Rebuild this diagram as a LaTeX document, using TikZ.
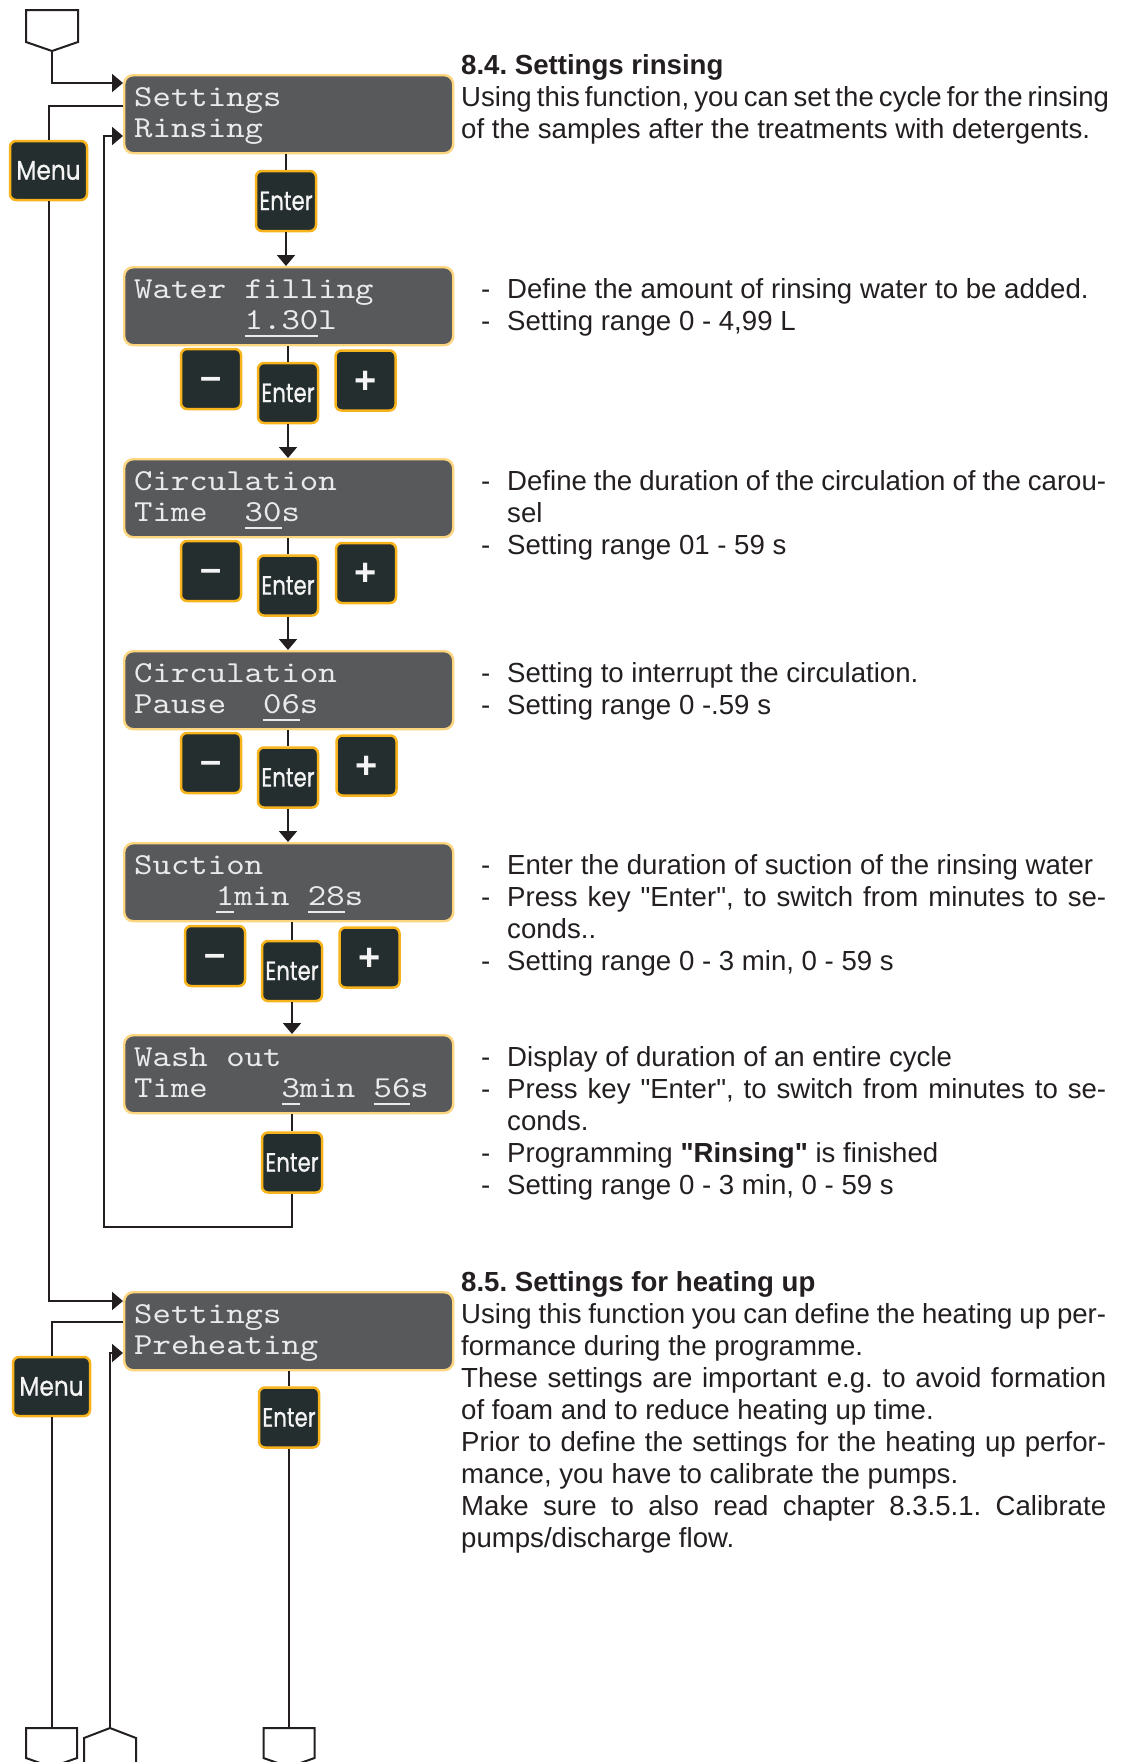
\documentclass[tikz,border=0pt]{standalone}
\usepackage{fontspec}
\usepackage{graphicx}
\newfontfamily\rtfont{Liberation Sans}
\newfontfamily\lcdfont{lmmono10-regular.otf}[FakeStretch=1.15]
\newfontfamily\keyfont{Poppins}[FakeBold=0.8]
\usetikzlibrary{arrows.meta}
\definecolor{lcdfill}{HTML}{58595B}
\definecolor{lcdborder}{HTML}{FCD57E}
\definecolor{lcdtext}{HTML}{EAEAEA}
\definecolor{keyfill}{HTML}{242E2F}
\definecolor{keyborder}{HTML}{F6B31B}
\definecolor{keytext}{HTML}{F4F4F4}
\definecolor{linecol}{HTML}{231F20}
\definecolor{txt}{HTML}{231F20}
\newsavebox\ulbox
\newcommand\ulx[1]{\sbox\ulbox{#1}\rlap{\rule[-7pt]{\wd\ulbox}{1.8pt}}\usebox\ulbox}
\newcommand\ekey{\scalebox{0.8}[1]{Enter}}
\newcommand\mkey{\scalebox{0.86}[1]{Menu}}
\newcommand\minuskey{\raisebox{-0.27em}[0pt][0pt]{–}}
\newcommand\pluskey{\raisebox{-0.33em}[0pt][0pt]{+}}
\begin{document}
\begin{tikzpicture}[x=1pt,y=-1pt,
  conn/.style={draw=linecol, line width=2pt},
  arr/.style={-{Triangle[width=18pt,length=11pt]}},
  lcd/.style={draw=lcdborder, line width=2.4pt, fill=lcdfill, rounded corners=9pt,
    minimum width=329pt, minimum height=78pt, inner sep=0pt, anchor=north west},
  lcdtxt/.style={anchor=base west, inner sep=0pt, text=lcdtext,
    font=\lcdfont\fontsize{30.5}{30.5}\selectfont},
  key/.style={draw=keyborder, line width=2.5pt, fill=keyfill, rounded corners=6pt,
    minimum width=60pt, minimum height=60pt, inner sep=0pt, text=keytext,
    font=\keyfont\fontsize{26.5}{26.5}\selectfont},
  menukey/.style={key, minimum width=77pt, minimum height=59pt,
    font=\keyfont\fontsize{27}{27}\selectfont},
  symkey/.style={key, font=\rtfont\bfseries\fontsize{38}{38}\selectfont},
  rt/.style={anchor=base west, inner sep=0pt, text=txt,
    font=\rtfont\fontsize{27.6}{32}\selectfont\frenchspacing},
  conshape/.style={draw=linecol, line width=2pt, fill=white, line join=miter}]
\useasboundingbox (0,0) rectangle (1125,1762);
\fill[white] (0,0) rectangle (1125,1762);
\clip (0,0) rectangle (1125,1762);

% off-page connectors
\draw[conshape] (26,10) -- (78,10) -- (78,42) -- (52,51) -- (26,42) -- cycle;
\coordinate (ctop) at (52,51);
\draw[conshape] (26,1728) -- (77,1728) -- (77,1758) -- (51.5,1767) -- (26,1758) -- cycle;
\coordinate (cbl) at (51.5,1728);
\draw[conshape] (110,1728) -- (136,1738) -- (136,1790) -- (84,1790) -- (84,1738) -- cycle;
\coordinate (cbm) at (110,1728);
\draw[conshape] (263.5,1728) -- (314.5,1728) -- (314.5,1758) -- (289,1767) -- (263.5,1758) -- cycle;
\coordinate (cbr) at (289,1728);

% LCD boxes
\node[lcd] (b1) at (123,74) {};
\node[lcd] (b2) at (123,266) {};
\node[lcd] (b3) at (123,458) {};
\node[lcd] (b4) at (123,650) {};
\node[lcd] (b5) at (123,842) {};
\node[lcd] (b6) at (123,1034) {};
\node[lcd] (b7) at (123,1291) {};

\node[lcdtxt] (t1a) at (134,106) {Settings};
\node[lcdtxt] (t1b) at (134,137.5) {Rinsing};
\node[lcdtxt] (t2a) at (134,298) {Water~filling};
\node[lcdtxt] (t2b) at (134,329.5) {~~~~~~\ulx{1.30}l};
\node[lcdtxt] (t3a) at (134,490) {Circulation};
\node[lcdtxt] (t3b) at (134,521.5) {Time~~\ulx{30}s};
\node[lcdtxt] (t4a) at (134,682) {Circulation};
\node[lcdtxt] (t4b) at (134,713.5) {Pause~~\ulx{06}s};
\node[lcdtxt] (t5a) at (134,874) {Suction};
\node[lcdtxt] (t5b) at (142,905.5) {~~~~\ulx{1}min~\ulx{28}s};
\node[lcdtxt] (t6a) at (134,1066) {Wash~out};
\node[lcdtxt] (t6b) at (134,1097.5) {Time~~~~\ulx{3}min~\ulx{56}s};
\node[lcdtxt] (t7a) at (134,1323) {Settings};
\node[lcdtxt] (t7b) at (134,1354.5) {Preheating};

% keys
\node[menukey] (menu1) at (48.5,170.5) {\mkey};
\node[menukey] (menu2) at (51.5,1386.5) {\mkey};
\node[key] (e1) at (286,201) {\ekey};
\node[symkey] (m2) at (211,379) {\minuskey};
\node[key] (e2) at (288,393) {\ekey};
\node[symkey] (p2) at (365.5,380.5) {\pluskey};
\node[symkey] (m3) at (211,571) {\minuskey};
\node[key] (e3) at (288,585.5) {\ekey};
\node[symkey] (p3) at (366,573) {\pluskey};
\node[symkey] (m4) at (211,763) {\minuskey};
\node[key] (e4) at (288,777.5) {\ekey};
\node[symkey] (p4) at (366.5,765.5) {\pluskey};
\node[symkey] (m5) at (215,956) {\minuskey};
\node[key] (e5) at (292,971) {\ekey};
\node[symkey] (p5) at (369.5,957.5) {\pluskey};
\node[key] (e6) at (292,1162.5) {\ekey};
\node[key] (e7) at (289,1417.5) {\ekey};

% main chain
\draw[conn] (e1 |- b1.south) -- (e1.north);
\draw[conn,arr] (e1.south) -- (e1 |- b2.north);
\draw[conn] (e2 |- b2.south) -- (e2.north);
\draw[conn,arr] (e2.south) -- (e2 |- b3.north);
\draw[conn] (e3 |- b3.south) -- (e3.north);
\draw[conn,arr] (e3.south) -- (e3 |- b4.north);
\draw[conn] (e4 |- b4.south) -- (e4.north);
\draw[conn,arr] (e4.south) -- (e4 |- b5.north);
\draw[conn] (e5 |- b5.south) -- (e5.north);
\draw[conn,arr] (e5.south) -- (e5 |- b6.north);
\draw[conn] (e6 |- b6.south) -- (e6.north);
\draw[conn,arr] (e6.south) |- (104,1227) |- (b1.west |- 0,136);
\draw[conn,arr] (ctop) |- (b1.west |- 0,83);

% menu paths
\draw[conn] (b1.west |- 0,106) -| (menu1.north);
\draw[conn,arr] (menu1.south) |- (b7.west |- 0,1301);
\draw[conn] (b7.west |- 0,1322) -| (menu2.north);
\draw[conn] (menu2.south) -- (cbl);
\draw[conn,arr] (cbm) |- (b7.west |- 0,1353);
\draw[conn] (e7 |- b7.south) -- (e7.north);
\draw[conn] (e7.south) -- (cbr);

% right-hand text: 8.4
\node[rt] (h1) at (461,74) {\bfseries 8.4. Settings rinsing};
\node[rt] (p1a) at (461,106) {\makebox[645pt][s]{Using this function, you can set the cycle for the rinsing}};
\node[rt] (p1b) at (461,138) {of the samples after the treatments with detergents.};

\node[rt] (d1) at (481,298) {-};
\node[rt] (l1) at (507,298) {Define the amount of rinsing water to be added.};
\node[rt] (d2) at (481,330) {-};
\node[rt] (l2) at (507,330) {Setting range 0 - 4,99 L};

\node[rt] (d3) at (481,490) {-};
\node[rt] (l3) at (507,490) {\makebox[599pt][s]{Define the duration of the circulation of the carou-}};
\node[rt] (l3b) at (507,522) {sel};
\node[rt] (d4) at (481,554) {-};
\node[rt] (l4) at (507,554) {Setting range 01 - 59 s};

\node[rt] (d5) at (481,682) {-};
\node[rt] (l5) at (507,682) {Setting to interrupt the circulation.};
\node[rt] (d6) at (481,714) {-};
\node[rt] (l6) at (507,714) {Setting range 0 -.59 s};

\node[rt] (d7) at (481,874) {-};
\node[rt] (l7) at (507,874) {Enter the duration of suction of the rinsing water};
\node[rt] (d8) at (481,906) {-};
\node[rt] (l8) at (507,906) {\makebox[599pt][s]{Press key "Enter", to switch from minutes to se-}};
\node[rt] (l8b) at (507,938) {conds..};
\node[rt] (d9) at (481,970) {-};
\node[rt] (l9) at (507,970) {Setting range 0 - 3 min, 0 - 59 s};

\node[rt] (d10) at (481,1066) {-};
\node[rt] (l10) at (507,1066) {Display of duration of an entire cycle};
\node[rt] (d11) at (481,1098) {-};
\node[rt] (l11) at (507,1098) {\makebox[599pt][s]{Press key "Enter", to switch from minutes to se-}};
\node[rt] (l11b) at (507,1130) {conds.};
\node[rt] (d12) at (481,1162) {-};
\node[rt] (l12) at (507,1162) {Programming \textbf{"Rinsing"} is finished};
\node[rt] (d13) at (481,1194) {-};
\node[rt] (l13) at (507,1194) {Setting range 0 - 3 min, 0 - 59 s};

% right-hand text: 8.5
\node[rt] (h2) at (461,1291) {\bfseries 8.5. Settings for heating up};
\node[rt] (q1) at (461,1323) {\makebox[645pt][s]{Using this function you can define the heating up per-}};
\node[rt] (q2) at (461,1355) {formance during the programme.};
\node[rt] (q3) at (461,1387) {\makebox[645pt][s]{These settings are important e.g. to avoid formation}};
\node[rt] (q4) at (461,1419) {of foam and to reduce heating up time.};
\node[rt] (q5) at (461,1451) {\makebox[645pt][s]{Prior to define the settings for the heating up perfor-}};
\node[rt] (q6) at (461,1483) {mance, you have to calibrate the pumps.};
\node[rt] (q7) at (461,1515) {\makebox[645pt][s]{Make sure to also read chapter 8.3.5.1. Calibrate}};
\node[rt] (q8) at (461,1547) {pumps/discharge flow.};
\end{tikzpicture}
\end{document}
